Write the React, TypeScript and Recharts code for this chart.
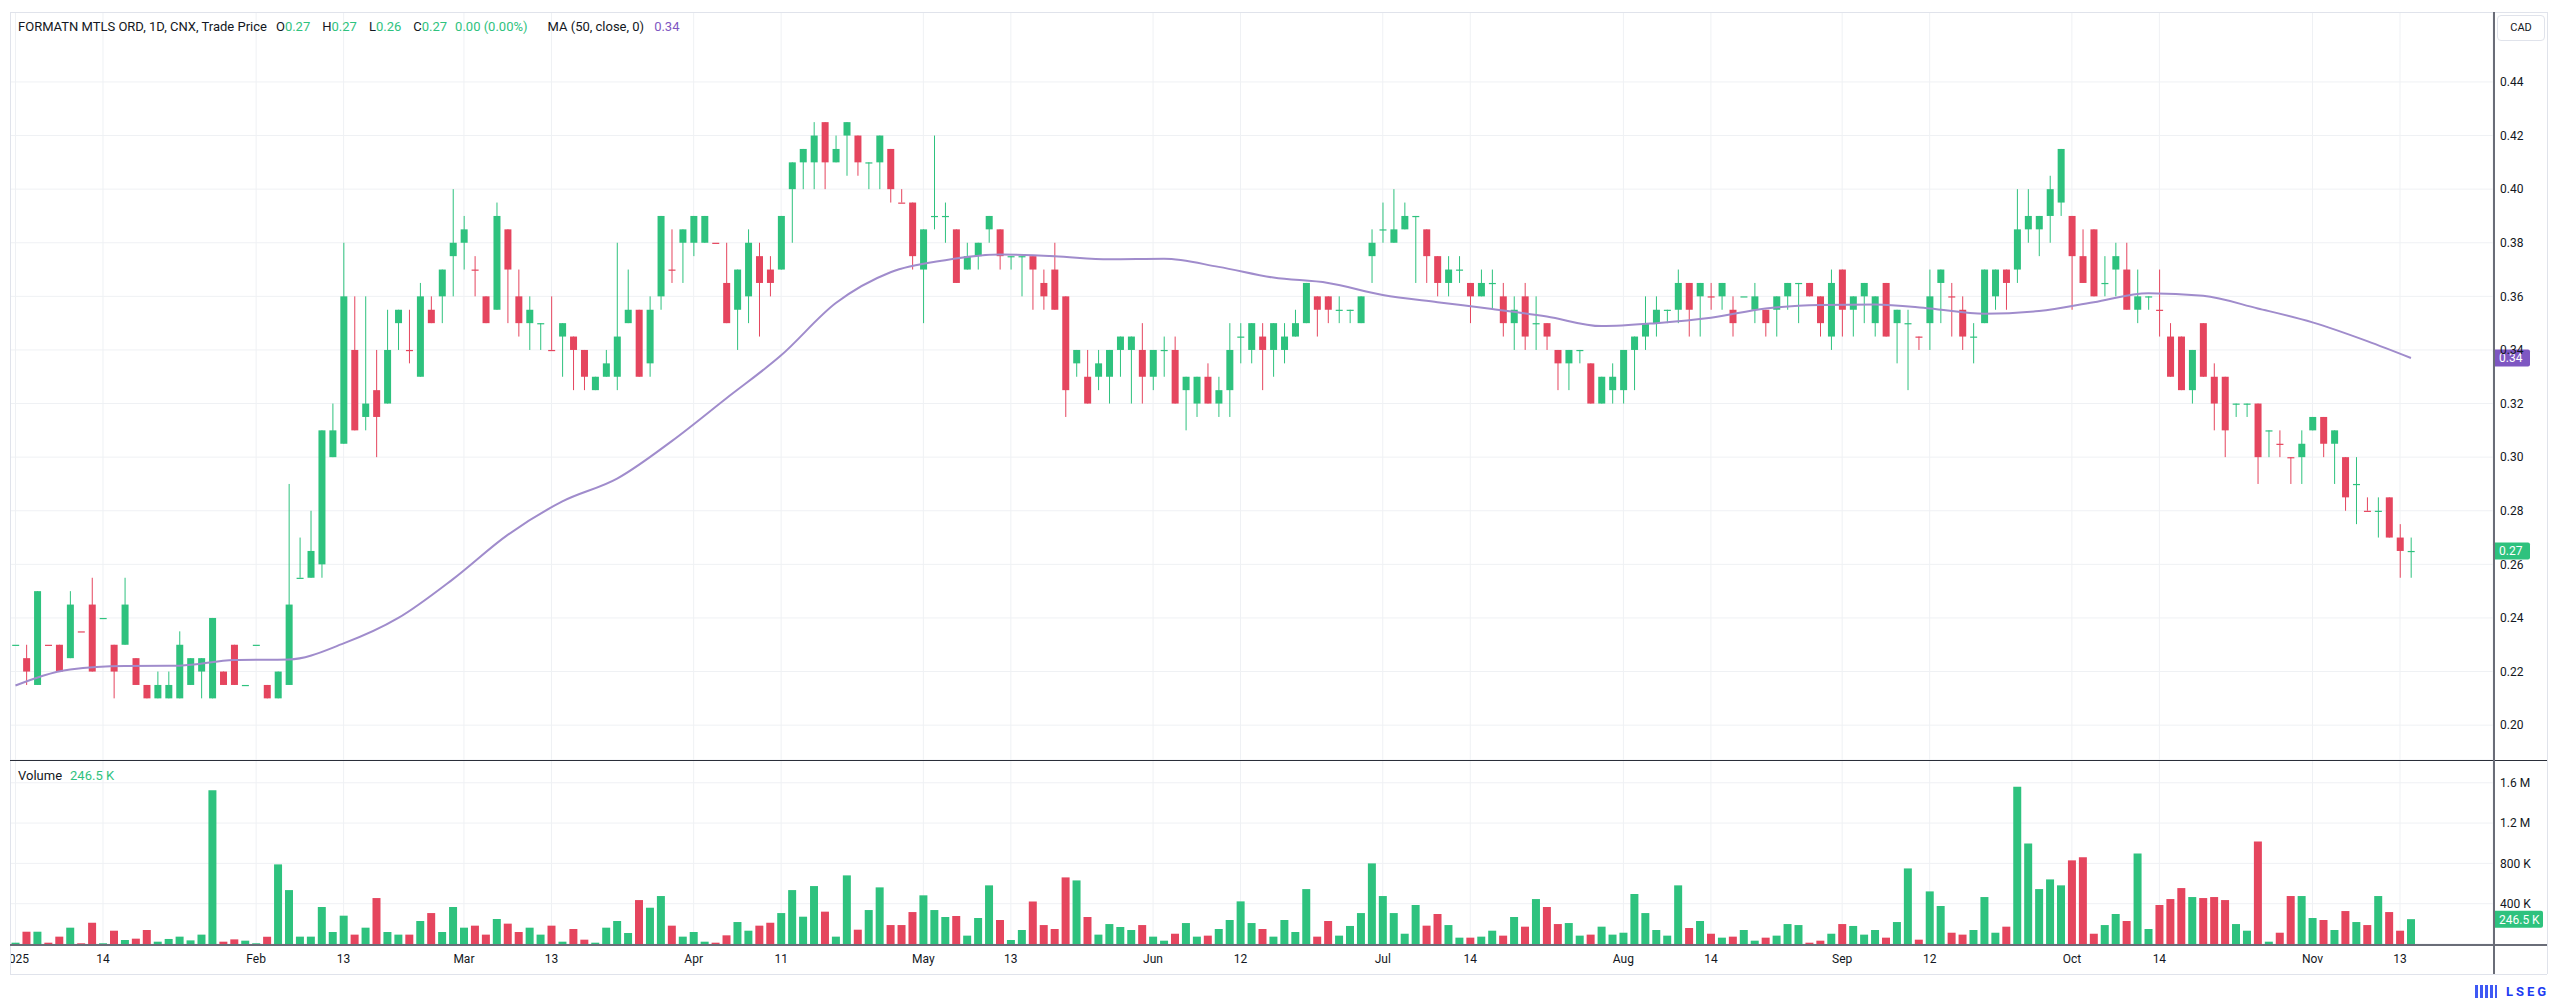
import React from 'react';
import { ComposedChart, Bar, Line, XAxis, YAxis, CartesianGrid, Cell, ReferenceLine } from 'recharts';

const UP = '#2ec27e';
const DOWN = '#e5455e';
const MA_COLOR = '#a08ccc';
const MA_TAG = '#7e57c2';
const GRID = '#eff1f4';
const TEXT = '#131722';
const FONT = 'Roboto, "Noto Sans", sans-serif';

// daily candles, Jan 2 2025 .. Nov 14 2025 (index = trading day)
const opens = [
  0.23, 0.225, 0.215, 0.23, 0.23, 0.225, 0.235, 0.245, 0.24, 0.23,
  0.23, 0.225, 0.215, 0.21, 0.21, 0.21, 0.215, 0.22, 0.21, 0.22,
  0.23, 0.215, 0.23, 0.215, 0.21, 0.215, 0.255, 0.255, 0.26, 0.30,
  0.305, 0.34, 0.315, 0.325, 0.32, 0.35, 0.34, 0.33, 0.355, 0.36,
  0.375, 0.38, 0.37, 0.36, 0.355, 0.385, 0.36, 0.35, 0.35, 0.34,
  0.345, 0.345, 0.34, 0.325, 0.33, 0.33, 0.35, 0.355, 0.335, 0.36,
  0.37, 0.38, 0.38, 0.38, 0.38, 0.365, 0.355, 0.36, 0.375, 0.37,
  0.37, 0.40, 0.41, 0.41, 0.425, 0.41, 0.42, 0.42, 0.41, 0.41,
  0.415, 0.395, 0.395, 0.37, 0.39, 0.39, 0.385, 0.37, 0.375, 0.385,
  0.385, 0.375, 0.375, 0.375, 0.365, 0.37, 0.36, 0.335, 0.33, 0.33,
  0.33, 0.34, 0.34, 0.34, 0.33, 0.34, 0.34, 0.325, 0.32, 0.33,
  0.32, 0.325, 0.345, 0.34, 0.345, 0.34, 0.34, 0.345, 0.35, 0.36,
  0.36, 0.355, 0.355, 0.35, 0.375, 0.385, 0.38, 0.385, 0.39, 0.385,
  0.375, 0.365, 0.37, 0.365, 0.36, 0.365, 0.36, 0.35, 0.36, 0.35,
  0.35, 0.34, 0.335, 0.34, 0.335, 0.32, 0.325, 0.325, 0.34, 0.345,
  0.35, 0.355, 0.355, 0.365, 0.36, 0.36, 0.36, 0.355, 0.36, 0.355,
  0.355, 0.355, 0.36, 0.365, 0.365, 0.36, 0.345, 0.37, 0.355, 0.36,
  0.35, 0.365, 0.35, 0.35, 0.345, 0.35, 0.365, 0.36, 0.355, 0.345,
  0.35, 0.36, 0.37, 0.37, 0.385, 0.385, 0.39, 0.395, 0.39, 0.375,
  0.385, 0.365, 0.37, 0.37, 0.355, 0.36, 0.355, 0.345, 0.345, 0.325,
  0.35, 0.33, 0.33, 0.32, 0.32, 0.32, 0.31, 0.305, 0.30, 0.30,
  0.31, 0.315, 0.305, 0.30, 0.29, 0.28, 0.28, 0.285, 0.27, 0.265,
];

const highs = [
  0.23, 0.23, 0.25, 0.23, 0.23, 0.25, 0.235, 0.255, 0.24, 0.23,
  0.255, 0.225, 0.215, 0.22, 0.22, 0.235, 0.225, 0.225, 0.24, 0.22,
  0.23, 0.215, 0.23, 0.215, 0.22, 0.29, 0.27, 0.28, 0.31, 0.32,
  0.38, 0.36, 0.36, 0.34, 0.355, 0.355, 0.355, 0.365, 0.36, 0.37,
  0.40, 0.39, 0.375, 0.36, 0.395, 0.385, 0.37, 0.36, 0.35, 0.36,
  0.35, 0.345, 0.34, 0.33, 0.34, 0.38, 0.37, 0.355, 0.36, 0.39,
  0.385, 0.385, 0.39, 0.39, 0.38, 0.38, 0.37, 0.385, 0.38, 0.375,
  0.39, 0.41, 0.415, 0.425, 0.425, 0.42, 0.425, 0.42, 0.41, 0.42,
  0.415, 0.40, 0.395, 0.385, 0.42, 0.395, 0.385, 0.38, 0.38, 0.39,
  0.385, 0.375, 0.375, 0.375, 0.37, 0.38, 0.36, 0.34, 0.34, 0.34,
  0.34, 0.345, 0.345, 0.35, 0.34, 0.345, 0.345, 0.33, 0.33, 0.335,
  0.33, 0.35, 0.35, 0.35, 0.35, 0.35, 0.35, 0.355, 0.365, 0.36,
  0.36, 0.36, 0.355, 0.36, 0.385, 0.395, 0.40, 0.395, 0.39, 0.385,
  0.375, 0.375, 0.375, 0.365, 0.37, 0.37, 0.365, 0.36, 0.365, 0.36,
  0.35, 0.34, 0.34, 0.34, 0.335, 0.33, 0.335, 0.34, 0.345, 0.36,
  0.36, 0.355, 0.37, 0.365, 0.365, 0.365, 0.365, 0.36, 0.36, 0.365,
  0.355, 0.36, 0.365, 0.365, 0.365, 0.36, 0.37, 0.37, 0.36, 0.365,
  0.36, 0.365, 0.355, 0.355, 0.345, 0.37, 0.37, 0.365, 0.36, 0.35,
  0.37, 0.37, 0.37, 0.40, 0.40, 0.39, 0.405, 0.415, 0.39, 0.385,
  0.385, 0.375, 0.38, 0.38, 0.37, 0.36, 0.37, 0.35, 0.345, 0.34,
  0.35, 0.335, 0.33, 0.32, 0.32, 0.32, 0.31, 0.31, 0.30, 0.31,
  0.315, 0.315, 0.31, 0.30, 0.30, 0.285, 0.285, 0.285, 0.275, 0.27,
];

const lows = [
  0.23, 0.215, 0.215, 0.23, 0.22, 0.225, 0.235, 0.22, 0.24, 0.21,
  0.23, 0.215, 0.21, 0.21, 0.21, 0.21, 0.215, 0.21, 0.21, 0.215,
  0.215, 0.215, 0.23, 0.21, 0.21, 0.215, 0.255, 0.255, 0.255, 0.30,
  0.305, 0.31, 0.31, 0.30, 0.32, 0.34, 0.335, 0.33, 0.35, 0.35,
  0.36, 0.37, 0.36, 0.35, 0.355, 0.35, 0.345, 0.34, 0.34, 0.34,
  0.33, 0.325, 0.325, 0.325, 0.33, 0.325, 0.35, 0.33, 0.33, 0.355,
  0.365, 0.365, 0.375, 0.38, 0.38, 0.35, 0.34, 0.35, 0.345, 0.36,
  0.37, 0.38, 0.40, 0.40, 0.40, 0.41, 0.405, 0.405, 0.40, 0.40,
  0.395, 0.395, 0.37, 0.35, 0.385, 0.38, 0.365, 0.37, 0.37, 0.38,
  0.37, 0.37, 0.36, 0.355, 0.355, 0.355, 0.315, 0.33, 0.32, 0.325,
  0.32, 0.33, 0.32, 0.32, 0.325, 0.33, 0.32, 0.31, 0.315, 0.32,
  0.315, 0.315, 0.335, 0.335, 0.325, 0.33, 0.335, 0.345, 0.35, 0.345,
  0.35, 0.35, 0.35, 0.35, 0.365, 0.38, 0.38, 0.385, 0.365, 0.365,
  0.36, 0.36, 0.365, 0.35, 0.36, 0.355, 0.345, 0.34, 0.34, 0.34,
  0.34, 0.325, 0.325, 0.335, 0.32, 0.32, 0.32, 0.32, 0.325, 0.34,
  0.345, 0.35, 0.35, 0.345, 0.345, 0.355, 0.355, 0.345, 0.36, 0.35,
  0.345, 0.345, 0.355, 0.35, 0.36, 0.345, 0.34, 0.345, 0.345, 0.35,
  0.345, 0.345, 0.335, 0.325, 0.34, 0.34, 0.35, 0.345, 0.34, 0.335,
  0.35, 0.355, 0.355, 0.365, 0.38, 0.375, 0.38, 0.39, 0.355, 0.365,
  0.36, 0.36, 0.36, 0.355, 0.35, 0.355, 0.345, 0.33, 0.325, 0.32,
  0.33, 0.31, 0.30, 0.315, 0.315, 0.29, 0.30, 0.30, 0.29, 0.29,
  0.31, 0.30, 0.29, 0.28, 0.275, 0.28, 0.27, 0.27, 0.255, 0.255,
];

const closes = [
  0.23, 0.22, 0.25, 0.23, 0.22, 0.245, 0.235, 0.22, 0.24, 0.22,
  0.245, 0.215, 0.21, 0.215, 0.215, 0.23, 0.225, 0.225, 0.24, 0.215,
  0.215, 0.215, 0.23, 0.21, 0.22, 0.245, 0.255, 0.265, 0.31, 0.31,
  0.36, 0.31, 0.32, 0.315, 0.34, 0.355, 0.34, 0.36, 0.35, 0.37,
  0.38, 0.385, 0.37, 0.35, 0.39, 0.37, 0.35, 0.355, 0.35, 0.34,
  0.35, 0.34, 0.33, 0.33, 0.335, 0.345, 0.355, 0.33, 0.355, 0.39,
  0.37, 0.385, 0.39, 0.39, 0.38, 0.35, 0.37, 0.38, 0.365, 0.365,
  0.39, 0.41, 0.415, 0.42, 0.41, 0.415, 0.425, 0.41, 0.41, 0.42,
  0.40, 0.395, 0.375, 0.385, 0.39, 0.39, 0.365, 0.375, 0.38, 0.39,
  0.375, 0.375, 0.375, 0.37, 0.36, 0.355, 0.325, 0.34, 0.32, 0.335,
  0.34, 0.345, 0.345, 0.33, 0.34, 0.34, 0.32, 0.33, 0.33, 0.32,
  0.325, 0.34, 0.345, 0.35, 0.34, 0.35, 0.345, 0.35, 0.365, 0.355,
  0.355, 0.355, 0.355, 0.36, 0.38, 0.385, 0.385, 0.39, 0.39, 0.375,
  0.365, 0.37, 0.37, 0.36, 0.365, 0.365, 0.35, 0.355, 0.345, 0.35,
  0.345, 0.335, 0.34, 0.34, 0.32, 0.33, 0.33, 0.34, 0.345, 0.35,
  0.355, 0.355, 0.365, 0.355, 0.365, 0.36, 0.365, 0.35, 0.36, 0.36,
  0.35, 0.36, 0.365, 0.365, 0.36, 0.35, 0.365, 0.355, 0.36, 0.365,
  0.36, 0.345, 0.355, 0.35, 0.345, 0.36, 0.37, 0.36, 0.345, 0.345,
  0.37, 0.37, 0.365, 0.385, 0.39, 0.39, 0.40, 0.415, 0.375, 0.365,
  0.36, 0.365, 0.375, 0.355, 0.36, 0.36, 0.355, 0.33, 0.325, 0.34,
  0.33, 0.32, 0.31, 0.32, 0.32, 0.30, 0.31, 0.305, 0.30, 0.305,
  0.315, 0.305, 0.31, 0.285, 0.29, 0.28, 0.28, 0.27, 0.265, 0.265,
];

// volume in thousands of shares
const volumes = [
  13, 122, 122, 13, 73, 162, 7, 211, 7, 132,
  40, 53, 139, 23, 50, 73, 36, 93, 1527, 23,
  46, 33, 7, 73, 790, 535, 73, 73, 367, 119,
  281, 93, 162, 456, 119, 93, 93, 228, 307, 119,
  367, 162, 182, 93, 248, 202, 119, 162, 93, 182,
  23, 149, 43, 13, 162, 228, 109, 436, 360, 476,
  182, 73, 119, 23, 13, 86, 218, 132, 182, 211,
  307, 535, 271, 575, 321, 73, 681, 142, 337, 562,
  188, 188, 317, 483, 337, 268, 278, 83, 258, 582,
  238, 40, 139, 423, 188, 149, 661, 631, 268, 93,
  198, 169, 139, 188, 73, 33, 102, 208, 73, 83,
  149, 238, 423, 208, 149, 73, 238, 119, 545, 73,
  228, 83, 179, 307, 800, 476, 307, 102, 387, 182,
  298, 188, 63, 63, 73, 132, 83, 268, 172, 446,
  367, 198, 208, 83, 93, 172, 93, 112, 496, 307,
  139, 83, 582, 159, 228, 102, 63, 73, 139, 33,
  63, 83, 198, 188, 13, 33, 102, 198, 179, 93,
  139, 63, 218, 750, 43, 522, 377, 112, 93, 139,
  466, 112, 172, 1560, 998, 545, 641, 582, 830, 860,
  102, 188, 298, 228, 899, 149, 387, 446, 555, 466,
  456, 466, 436, 198, 132, 1018, 23, 112, 476, 476,
  258, 238, 139, 327, 218, 188, 476, 317, 132, 246.5,
];

// candle colour as drawn (G = up, R = down)
const directions =
  'GRGRRGRRGR' + 'GRRGGGGGGR' + 'RGGRGGGGGG' + 'GRGRGGRGRG' + 'GGRRGRRGGR' +
  'GRRGGGGRGG' + 'RGGGRRGGRR' + 'GGGGRGGRGG' + 'RRRGGGRGGG' + 'RGGRRRRGRG' +
  'GGGRGGRGGR' + 'GGGGRGGGGR' + 'RGGGGGGGGR' + 'RGGRGGRGRG' + 'RRGGRGGGGG' +
  'GGGRGRGRGG' + 'RGGGRRGRGG' + 'GRGGRGGRRG' + 'GGRGGGGGRR' + 'RGGRGGRRRG' +
  'RRRGGRGRRG' + 'GRGRGRGRRG';

// MA (50, close)
const maIndex = [
  0, 5, 10, 15, 20, 25, 30, 35, 40, 45, 50, 55, 60, 65, 70, 75, 80, 85, 90, 95, 100, 105,
  110, 115, 120, 125, 130, 135, 140, 145, 150, 155, 160, 165, 170, 175, 180, 185, 190, 195,
  200, 205, 210, 215, 219,
];
const maValue = [
  0.2148, 0.2208, 0.2221, 0.2222, 0.2243, 0.2245, 0.2305, 0.240, 0.2545, 0.271, 0.2835,
  0.292, 0.306, 0.322, 0.338, 0.3575, 0.369, 0.3735, 0.3756, 0.375, 0.3738, 0.374,
  0.371, 0.367, 0.365, 0.3605, 0.3578, 0.3553, 0.3525, 0.3489, 0.350, 0.352, 0.3555,
  0.3568, 0.357, 0.3555, 0.3535, 0.3545, 0.3578, 0.3612, 0.3602, 0.3555, 0.3503,
  0.3433, 0.337,
];

const tickIndex = [0, 8, 22, 30, 41, 49, 62, 70, 83, 91, 104, 112, 125, 133, 147, 155, 167, 175, 188, 196, 210, 218];
const tickLabels = ['2025', '14', 'Feb', '13', 'Mar', '13', 'Apr', '11', 'May', '13', 'Jun', '12', 'Jul', '14', 'Aug', '14', 'Sep', '12', 'Oct', '14', 'Nov', '13'];

const priceTicks = [0.2, 0.22, 0.24, 0.26, 0.28, 0.3, 0.32, 0.34, 0.36, 0.38, 0.4, 0.42, 0.44];
const volumeTicks = [400, 800, 1200, 1600];

const EMPTY_SLOTS = 7; // blank space to the right of the last bar

const maByIndex: Record<number, number> = {};
maIndex.forEach((idx, k) => { maByIndex[idx] = maValue[k]; });

const data = Array.from({ length: opens.length + EMPTY_SLOTS }, (_, i) => {
  if (i >= opens.length) return { i, range: null, vol: null, ma: null };
  return {
    i,
    open: opens[i],
    high: highs[i],
    low: lows[i],
    close: closes[i],
    range: [lows[i], highs[i]],
    vol: volumes[i],
    up: directions[i] === 'G',
    ma: maByIndex[i] ?? null,
  };
});

const last = data[opens.length - 1] as any;
const lastMa = maValue[maValue.length - 1];

const Candle = (props: any) => {
  const { x, y, width, height, payload } = props;
  if (!payload || payload.range == null) return null;
  const { open, high, low, close, up } = payload;
  const color = up ? UP : DOWN;
  const top = Math.min(y, y + height);
  const h = Math.abs(height);
  const cx = x + width / 2;
  const ratio = high > low ? h / (high - low) : 0;
  const yOf = (v: number) => top + (high - v) * ratio;
  const bTop = yOf(Math.max(open, close));
  const bBot = yOf(Math.min(open, close));
  return (
    <g>
      {h > 0 && <line x1={cx} x2={cx} y1={top} y2={top + h} stroke={color} strokeWidth={1} />}
      <rect x={x} y={bTop} width={width} height={Math.max(bBot - bTop, 1.2)} fill={color} />
    </g>
  );
};

const AxisTag = ({ viewBox, text, color, w }: any) => {
  if (!viewBox) return null;
  const x = viewBox.x + viewBox.width;
  return (
    <g>
      <rect x={x} y={viewBox.y - 8.5} width={w} height={17} rx={2} fill={color} />
      <text x={x + 6} y={viewBox.y + 4.5} fontSize={12} fill="#fff" fontFamily={FONT}>{text}</text>
    </g>
  );
};

const fmtVol = (v: number) => (v >= 1000 ? `${(v / 1000).toFixed(1)} M` : `${v} K`);
const tickText = { fontSize: 12, fill: TEXT, fontFamily: FONT };

const line = (left: number, top: number, width: number, height: number, color: string) => (
  <div style={{ position: 'absolute', left, top, width, height, background: color }} />
);

export default function App() {
  return (
    <div style={{ position: 'absolute', left: 0, top: 0, width: 2558, height: 1003, background: '#fff', fontFamily: FONT, color: TEXT }}>
      {/* price pane */}
      <div style={{ position: 'absolute', left: 10, top: 12, width: 2548, height: 748, overflow: 'hidden' }}>
        <ComposedChart width={2548} height={748} data={data} margin={{ top: 0, right: 0, bottom: 0, left: 0 }} barCategoryGap="20%">
          <CartesianGrid stroke={GRID} />
          <XAxis dataKey="i" type="category" hide ticks={tickIndex} interval={0} />
          <YAxis
            orientation="right"
            width={65}
            domain={[0.187, 0.4661]}
            ticks={priceTicks}
            tickFormatter={(v: number) => v.toFixed(2)}
            axisLine={false}
            tickLine={false}
            tickSize={0}
            tickMargin={7}
            tick={tickText}
          />
          <Line dataKey="ma" stroke={MA_COLOR} strokeWidth={2} dot={false} connectNulls type="monotone" isAnimationActive={false} />
          <Bar dataKey="range" shape={Candle} isAnimationActive={false} />
          <ReferenceLine y={lastMa} stroke="none" label={(p: any) => <AxisTag viewBox={p.viewBox} text="0.34" color={MA_TAG} w={37} />} />
          <ReferenceLine y={last.close} stroke="none" label={(p: any) => <AxisTag viewBox={p.viewBox} text="0.27" color={UP} w={37} />} />
        </ComposedChart>
      </div>

      {/* volume pane */}
      <div style={{ position: 'absolute', left: 10, top: 760, width: 2548, height: 214, overflow: 'hidden' }}>
        <ComposedChart width={2548} height={214} data={data} margin={{ top: 0, right: 0, bottom: 0, left: 0 }} barCategoryGap="14%">
          <CartesianGrid stroke={GRID} />
          <XAxis
            dataKey="i"
            type="category"
            ticks={tickIndex}
            interval={0}
            height={30}
            axisLine={false}
            tickLine={false}
            tickSize={0}
            tickMargin={10}
            tick={tickText}
            tickFormatter={(v: number) => tickLabels[tickIndex.indexOf(v)] ?? ''}
          />
          <YAxis
            orientation="right"
            width={65}
            domain={[0, 1826]}
            ticks={volumeTicks}
            tickFormatter={fmtVol}
            axisLine={false}
            tickLine={false}
            tickSize={0}
            tickMargin={7}
            tick={tickText}
          />
          <Bar dataKey="vol" isAnimationActive={false}>
            {data.map((d: any) => (
              <Cell key={d.i} fill={d.up ? UP : DOWN} />
            ))}
          </Bar>
          <ReferenceLine y={last.vol} stroke="none" label={(p: any) => <AxisTag viewBox={p.viewBox} text="246.5 K" color={UP} w={50} />} />
        </ComposedChart>
      </div>

      {/* frame and separators */}
      {line(10, 12, 2537, 1, '#e0e3eb')}
      {line(10, 12, 1, 962, '#e0e3eb')}
      {line(2547, 12, 1, 962, '#e0e3eb')}
      {line(10, 974, 2537, 1, '#e0e3eb')}
      {line(10, 760, 2537, 1, '#2a2e39')}
      {line(10, 944, 2537, 1.5, '#6a6d78')}
      {line(2493, 12, 1.5, 962, '#6a6d78')}

      {/* legend rows */}
      <div style={{ position: 'absolute', left: 18, top: 19, fontSize: 13, lineHeight: '16px', whiteSpace: 'nowrap' }}>
        <span>FORMATN MTLS ORD, 1D, CNX, Trade Price</span>
        <span style={{ marginLeft: 9 }}>O</span><span style={{ color: UP }}>0.27</span>
        <span style={{ marginLeft: 12 }}>H</span><span style={{ color: UP }}>0.27</span>
        <span style={{ marginLeft: 12 }}>L</span><span style={{ color: UP }}>0.26</span>
        <span style={{ marginLeft: 12 }}>C</span><span style={{ color: UP }}>0.27</span>
        <span style={{ marginLeft: 8, color: UP }}>0.00 (0.00%)</span>
        <span style={{ marginLeft: 20 }}>MA (50, close, 0)</span>
        <span style={{ marginLeft: 10, color: MA_TAG }}>0.34</span>
      </div>
      <div style={{ position: 'absolute', left: 18, top: 768, fontSize: 13, lineHeight: '16px', whiteSpace: 'nowrap' }}>
        <span>Volume</span>
        <span style={{ marginLeft: 8, color: UP }}>246.5 K</span>
      </div>

      {/* currency badge */}
      <div style={{ position: 'absolute', left: 2497, top: 15, width: 46, height: 24, border: '1px solid #e0e3eb', borderRadius: 4, fontSize: 11, lineHeight: '24px', textAlign: 'center' }}>CAD</div>

      {/* provider mark */}
      <div style={{ position: 'absolute', left: 2475, top: 985, width: 22, height: 13, background: 'repeating-linear-gradient(90deg, #1d3cf2 0 3px, transparent 3px 5px)', opacity: 0.85 }} />
      <div style={{ position: 'absolute', left: 2506, top: 984, fontSize: 13, fontWeight: 700, letterSpacing: 3, color: '#1d3cf2' }}>LSEG</div>
    </div>
  );
}
